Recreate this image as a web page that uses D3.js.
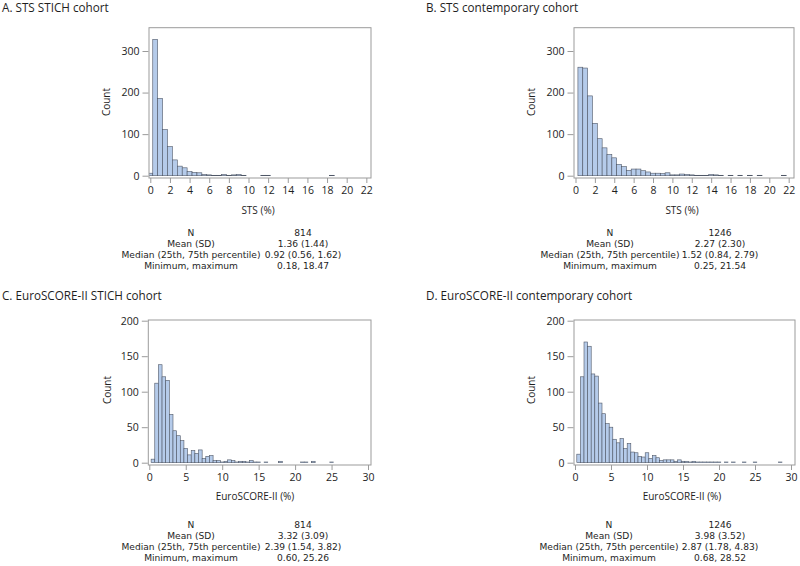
<!DOCTYPE html>
<html>
<head>
<meta charset="utf-8">
<script src="https://cdn.jsdelivr.net/npm/d3@7"></script>
<style>
  body { margin: 0; background: #fff; }
  svg { display: block; }
  text { font-family: "Open Sans", "Noto Sans", sans-serif; fill: #1e1e1e; }
  .stat { font-family: "DejaVu Sans", sans-serif; }
</style>
</head>
<body>
<svg id="chart" width="800" height="566"></svg>
<script>
// ---------- DATA ----------
// Panel A: STS, STICH cohort (bin midpoints, counts)
const stsStichMid   = [0, 0.5, 1, 1.5, 2, 2.5, 3, 3.5, 4, 4.5, 5, 5.5, 6, 6.5, 7, 7.5, 8, 8.5, 9, 9.5, 11.5, 12, 18.5];
const stsStichCount = [6, 328, 186, 111, 70, 38, 23, 19, 10, 8, 7, 3, 2, 1, 1, 3, 1, 2, 3, 1, 1, 1, 1];

// Panel B: STS, contemporary cohort
const stsContMid   = [0.5, 1, 1.5, 2, 2.5, 3, 3.5, 4, 4.5, 5, 5.5, 6, 6.5, 7, 7.5, 8, 8.5, 9, 9.5, 10, 10.5, 11, 11.5, 12, 12.5, 13, 13.5, 14, 14.5, 15, 16, 17, 18, 19, 21.5];
const stsContCount = [261, 259, 192, 126, 89, 67, 51, 43, 27, 22, 13, 16, 16, 12, 9, 6, 6, 5, 7, 2, 2, 4, 3, 2, 1, 1, 1, 3, 2, 1, 1, 1, 1, 1, 1];

// Panel C: EuroSCORE-II, STICH cohort
const esStichMid   = [0.5, 1, 1.5, 2, 2.5, 3, 3.5, 4, 4.5, 5, 5.5, 6, 6.5, 7, 7.5, 8, 8.5, 9, 9.5, 10, 10.5, 11, 11.5, 12, 12.5, 13, 13.5, 14, 14.5, 15, 16, 18, 21, 21.5, 22.5, 25];
const esStichCount = [5, 112, 138, 121, 116, 68, 45, 38, 31, 20, 11, 17, 13, 18, 6, 9, 10, 3, 3, 1, 2, 4, 3, 1, 2, 2, 1, 3, 1, 1, 1, 2, 1, 1, 2, 1];

// Panel D: EuroSCORE-II, contemporary cohort
const esContMid   = [0.5, 1, 1.5, 2, 2.5, 3, 3.5, 4, 4.5, 5, 5.5, 6, 6.5, 7, 7.5, 8, 8.5, 9, 9.5, 10, 10.5, 11, 11.5, 12, 12.5, 13, 13.5, 14, 14.5, 15, 15.5, 16, 16.5, 17, 17.5, 18, 18.5, 19, 19.5, 20, 21, 22, 23.5, 25, 28.5];
const esContCount = [12, 121, 170, 164, 125, 122, 84, 69, 55, 50, 33, 28, 34, 20, 27, 15, 14, 9, 8, 14, 6, 10, 7, 3, 4, 4, 4, 2, 4, 2, 2, 1, 2, 1, 1, 1, 1, 1, 1, 1, 1, 1, 1, 1, 1];

const binWidth = 0.5;

// Tick labels
const stsTicks = [0, 2, 4, 6, 8, 10, 12, 14, 16, 18, 20, 22];
const esTicks  = [0, 5, 10, 15, 20, 25, 30];
const stsYTicks = [0, 100, 200, 300];
const esYTicks  = [0, 50, 100, 150, 200];

// Texts
const titles = ["A. STS STICH cohort", "B. STS contemporary cohort", "C. EuroSCORE-II STICH cohort", "D. EuroSCORE-II contemporary cohort"];
const xLabels = ["STS (%)", "STS (%)", "EuroSCORE-II (%)", "EuroSCORE-II (%)"];
const statLabels = ["N", "Mean (SD)", "Median (25th, 75th percentile)", "Minimum, maximum"];
const statsA = ["814", "1.36 (1.44)", "0.92 (0.56, 1.62)", "0.18, 18.47"];
const statsB = ["1246", "2.27 (2.30)", "1.52 (0.84, 2.79)", "0.25, 21.54"];
const statsC = ["814", "3.32 (3.09)", "2.39 (1.54, 3.82)", "0.60, 25.26"];
const statsD = ["1246", "3.98 (3.52)", "2.87 (1.78, 4.83)", "0.68, 28.52"];

// ---------- LAYOUT ----------
const panels = [
  { title: titles[0], tx: 2,   ty: 12,  mid: stsStichMid, count: stsStichCount, xticks: stsTicks, yticks: stsYTicks, xlabel: xLabels[0], stats: statsA,
    left: 149, right: 371, top: 27.7, axisY: 178, y0: 175.7, x0: 150.3, ppu: 9.82, yRef: 300, yRefPx: 51, labelX: 106, labelY: 102,
    tickLabY: 195, xLabX: 258, xLabY: 214, statY: 235.5, c1: 191, c2: 303 },
  { title: titles[1], tx: 426, ty: 12,  mid: stsContMid, count: stsContCount, xticks: stsTicks, yticks: stsYTicks, xlabel: xLabels[1], stats: statsB,
    left: 574, right: 794, top: 27.7, axisY: 178, y0: 175.7, x0: 575.5, ppu: 9.69, yRef: 300, yRefPx: 51, labelX: 531, labelY: 102,
    tickLabY: 195, xLabX: 682, xLabY: 214, statY: 235.5, c1: 610, c2: 720 },
  { title: titles[2], tx: 2,   ty: 300, mid: esStichMid, count: esStichCount, xticks: esTicks, yticks: esYTicks, xlabel: xLabels[2], stats: statsC,
    left: 148.3, right: 371, top: 320, axisY: 465, y0: 462.7, x0: 149.3, ppu: 7.29, yRef: 200, yRefPx: 320.7, labelX: 107, labelY: 390,
    tickLabY: 481, xLabX: 255, xLabY: 500, statY: 527.5, c1: 191, c2: 303 },
  { title: titles[3], tx: 426, ty: 300, mid: esContMid, count: esContCount, xticks: esTicks, yticks: esYTicks, xlabel: xLabels[3], stats: statsD,
    left: 574, right: 795, top: 320, axisY: 465, y0: 462.7, x0: 575, ppu: 7.2, yRef: 200, yRefPx: 320.7, labelX: 531, labelY: 390,
    tickLabY: 481, xLabX: 682, xLabY: 500, statY: 527.5, c1: 609, c2: 720 }
];

const svg = d3.select("#chart");
const defs = svg.append("defs");
const frameColor = "#9b9b9b";

panels.forEach((p, i) => {
  const g = svg.append("g");
  // title
  g.append("text").attr("x", p.tx).attr("y", p.ty).attr("font-size", 11.7).text(p.title);

  const x = d3.scaleLinear()
    .domain([(p.left - p.x0) / p.ppu, (p.right - p.x0) / p.ppu])
    .range([p.left, p.right]);
  const pxPerCount = (p.y0 - p.yRefPx) / p.yRef;
  const y = d3.scaleLinear()
    .domain([0, (p.y0 - p.top) / pxPerCount])
    .range([p.y0, p.top]);

  defs.append("clipPath").attr("id", "clip" + i)
    .append("rect").attr("x", p.left).attr("y", p.top).attr("width", p.right - p.left).attr("height", p.axisY - p.top);

  const bins = p.mid.map((m, k) => ({ m: m, c: p.count[k] }));
  g.append("g").attr("clip-path", `url(#clip${i})`)
    .selectAll("rect").data(bins).join("rect")
    .attr("x", d => x(d.m - binWidth / 2))
    .attr("width", d => x(d.m + binWidth / 2) - x(d.m - binWidth / 2))
    .attr("y", d => y(d.c))
    .attr("height", d => y(0) - y(d.c))
    .attr("fill", "#b5cbea")
    .attr("stroke", "#4f5766")
    .attr("stroke-width", 0.6);

  // frame
  g.append("rect").attr("x", p.left).attr("y", p.top)
    .attr("width", p.right - p.left).attr("height", p.axisY - p.top)
    .attr("fill", "none").attr("stroke", frameColor).attr("stroke-width", 1);

  // y axis
  const yAxis = d3.axisLeft(y).tickValues(p.yticks).tickSize(6).tickPadding(3).tickSizeOuter(0);
  const ya = g.append("g").attr("transform", `translate(${p.left - 0.5},0)`).call(yAxis);
  ya.select(".domain").remove();
  ya.selectAll("line").attr("stroke", frameColor);
  ya.selectAll("text").attr("font-size", 10.5).attr("fill", "#1e1e1e").attr("font-family", "'Open Sans', sans-serif");

  // x axis
  const xAxis = d3.axisBottom(x).tickValues(p.xticks).tickSize(5).tickPadding(4).tickFormat(d3.format("d")).tickSizeOuter(0);
  const xa = g.append("g").attr("transform", `translate(0,${p.axisY})`).call(xAxis);
  xa.select(".domain").remove();
  xa.selectAll("line").attr("stroke", frameColor);
  xa.selectAll("text").attr("font-size", 10.5).attr("fill", "#1e1e1e").attr("font-family", "'Open Sans', sans-serif");

  // axis labels
  g.append("text").attr("x", p.xLabX).attr("y", p.xLabY)
    .attr("text-anchor", "middle").attr("font-size", 10).text(p.xlabel);
  g.append("text").attr("transform", `translate(${p.labelX + 4},${p.labelY}) rotate(-90)`)
    .attr("text-anchor", "middle").attr("font-size", 10).text("Count");

  // stats table
  statLabels.forEach((lab, k) => {
    g.append("text").attr("class", "stat").attr("x", p.c1).attr("y", p.statY + k * 11)
      .attr("text-anchor", "middle").attr("font-size", 9.1).text(lab);
    g.append("text").attr("class", "stat").attr("x", p.c2).attr("y", p.statY + k * 11)
      .attr("text-anchor", "middle").attr("font-size", 9.1).text(p.stats[k]);
  });
});
</script>
</body>
</html>
